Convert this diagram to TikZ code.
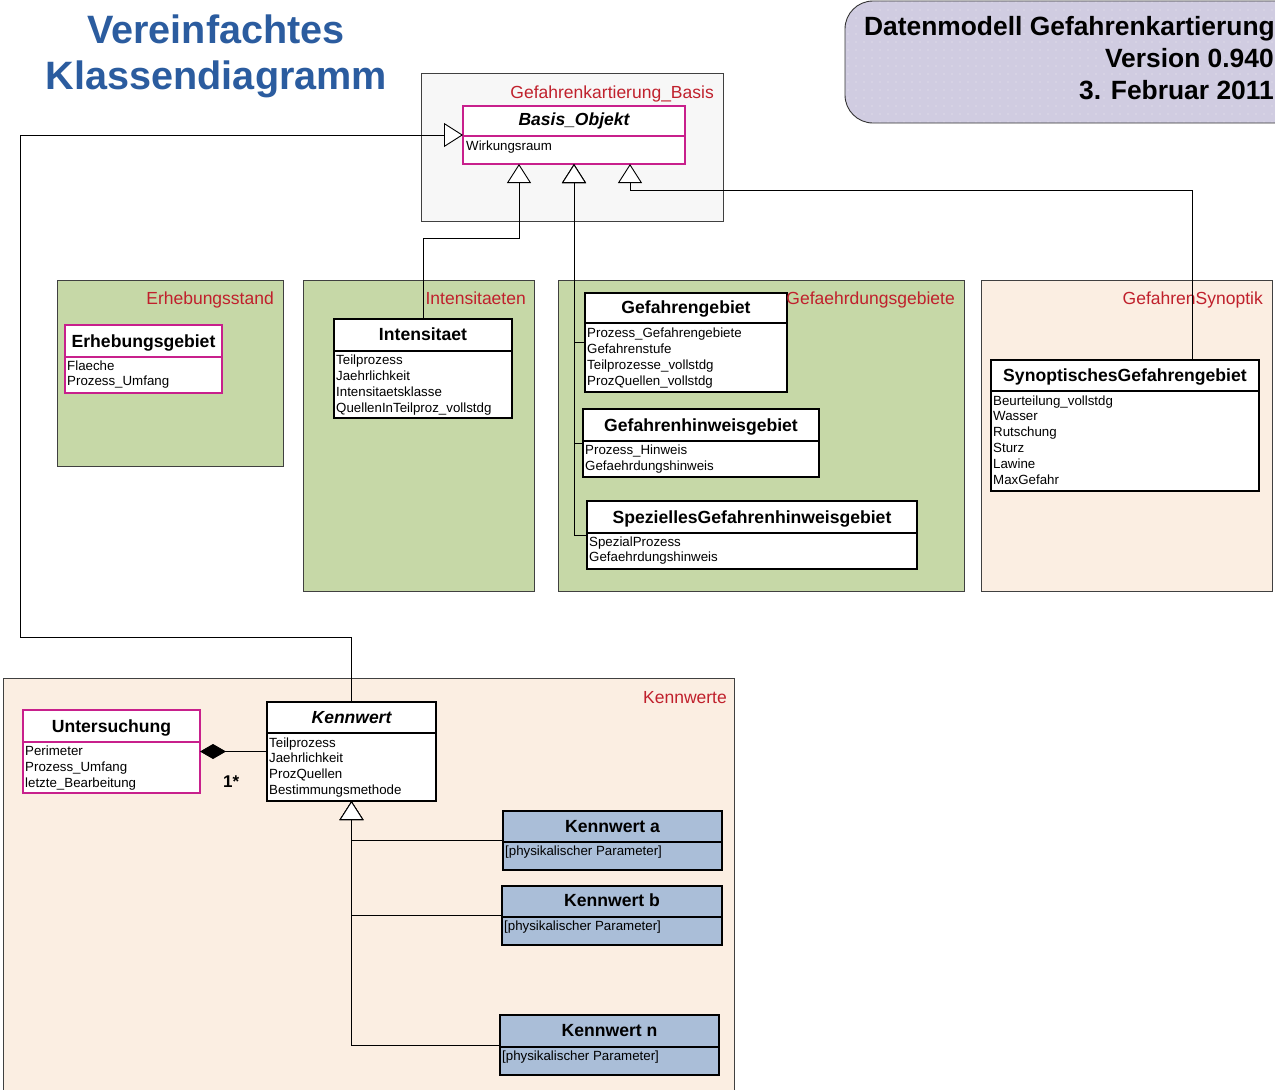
\documentclass[tikz,border=0pt]{standalone}
\usepackage{fontspec}
\setmainfont{Liberation Sans}
\usetikzlibrary{arrows.meta,calc,patterns.meta}

\definecolor{titleblue}{HTML}{2B5C9F}
\definecolor{pkgred}{HTML}{C0202C}
\definecolor{umlmagenta}{HTML}{C8208C}
\definecolor{greenpkg}{HTML}{C6D8A7}
\definecolor{peachpkg}{HTML}{FBEEE2}
\definecolor{graypkg}{HTML}{F7F7F7}
\definecolor{bluecls}{HTML}{AABED8}
\definecolor{lavender}{HTML}{D0CCE1}

\newcommand{\fsz}[1]{\fontsize{#1}{#1}\selectfont}

\begin{document}
\begin{tikzpicture}[x=1pt,y=-1pt,
  pkg/.style={draw=black!75, line width=0.8pt},
  pkglabel/.style={text=pkgred, font=\fsz{17.5}, anchor=base east, inner sep=0},
  cls/.style={draw=black, line width=2.4pt, fill=white, anchor=north west, inner sep=0, outer sep=0},
  mcls/.style={cls, draw=umlmagenta, line width=2.8pt},
  bcls/.style={cls, fill=bluecls},
  clsdiv/.style={draw=black, line width=2pt},
  mclsdiv/.style={draw=umlmagenta, line width=2.4pt},
  bclsdiv/.style={clsdiv},
  clstitle/.style={font=\fsz{17.6}\bfseries, anchor=base, inner sep=0},
  clsattr/.style={font=\fsz{13.3}, anchor=base west, inner sep=0},
  gen/.style={draw=black, line width=0.9pt, -{Triangle[length=19pt, width=24pt, fill=white]}},
  comp/.style={draw=black, line width=0.9pt, {Diamond[length=26pt, width=15pt, fill=black]}-},
]
\useasboundingbox (0,0) rectangle (1275,1090);
\clip (0,0) rectangle (1275,1090);
\fill[white] (0,0) rectangle (1275,1090);

% heading block at the top right
\path[draw=black!80, line width=0.9pt, rounded corners=28pt,
  preaction={fill=lavender},
  pattern={Dots[distance=8pt, radius=0.7pt]}, pattern color=white!55!lavender]
  (845,1) rectangle (1310,123);
\node[font=\fsz{26.4}\bfseries, anchor=base east, inner sep=0] (hdr1) at (1275,35) {Datenmodell Gefahrenkartierung};
\node[font=\fsz{26.4}\bfseries, anchor=base east, inner sep=0] (hdr2) at (1274,67) {Version 0.940};
\node[font=\fsz{26.4}\bfseries, anchor=base east, inner sep=0] (hdr3) at (1274,99) {3. Februar 2011};

% title
\node[font=\fsz{39.6}\bfseries, text=titleblue, anchor=base, inner sep=0] (title1) at (216,43) {Vereinfachtes};
\node[font=\fsz{39.6}\bfseries, text=titleblue, anchor=base, inner sep=0] (title2) at (216.5,89) {Klassendiagramm};

% packages
\path[pkg, fill=graypkg] (421,73) rectangle (723,221);
\path[pkg, fill=greenpkg] (57,280) rectangle (283,466);
\path[pkg, fill=greenpkg] (303,280) rectangle (534,591);
\path[pkg, fill=greenpkg] (558,280) rectangle (964,591);
\path[pkg, fill=peachpkg] (981,280) rectangle (1272,591);
\path[pkg, fill=peachpkg] (3,678) rectangle (734,1100);

\node[pkglabel] (lbl-basis) at (714,98) {Gefahrenkartierung\_Basis};
\node[pkglabel] (lbl-erh) at (274,304) {Erhebungsstand};
\node[pkglabel] (lbl-int) at (526,304) {Intensitaeten};
\node[pkglabel] (lbl-synop) at (1263,304) {GefahrenSynoptik};
\node[pkglabel] (lbl-kw) at (727,703) {Kennwerte};

% classes
\node[mcls, minimum width=222pt, minimum height=58pt] (basis) at (463,106) {};
\draw[mclsdiv] (463,136) -- (685,136);
\node[clstitle, font=\fsz{17.5}\bfseries\itshape] (basis-t) at (574,125) {Basis\_Objekt};
\node[clsattr] (basis-a1) at (466,150) {Wirkungsraum};

\node[mcls, minimum width=157pt, minimum height=68pt] (erh) at (65,325) {};
\draw[mclsdiv] (65,357) -- (222,357);
\node[clstitle] (erh-t) at (143.5,347) {Erhebungsgebiet};
\foreach [count=\i] \t in {Flaeche,Prozess\_Umfang}
  \node[clsattr] (erh-a\i) at (67,{370+15.5*(\i-1)}) {\t};

\node[cls, minimum width=178pt, minimum height=99pt] (intens) at (334,319) {};
\draw[clsdiv] (334,350.5) -- (512,350.5);
\node[clstitle] (intens-t) at (423,340) {Intensitaet};
\foreach [count=\i] \t in {Teilprozess,Jaehrlichkeit,Intensitaetsklasse,QuellenInTeilproz\_vollstdg}
  \node[clsattr] (intens-a\i) at (336,{364+16*(\i-1)}) {\t};

\node[cls, minimum width=202pt, minimum height=99pt] (gg) at (585,293) {};
\draw[clsdiv] (585,323) -- (787,323);
\node[clstitle] (gg-t) at (686,313) {Gefahrengebiet};
\foreach [count=\i] \t in {Prozess\_Gefahrengebiete,Gefahrenstufe,Teilprozesse\_vollstdg,ProzQuellen\_vollstdg}
  \node[clsattr] (gg-a\i) at (587,{337+16*(\i-1)}) {\t};

\node[cls, minimum width=236pt, minimum height=68pt] (ghg) at (583,409) {};
\draw[clsdiv] (583,441) -- (819,441);
\node[clstitle] (ghg-t) at (701,431) {Gefahrenhinweisgebiet};
\foreach [count=\i] \t in {Prozess\_Hinweis,Gefaehrdungshinweis}
  \node[clsattr] (ghg-a\i) at (585,{454+16*(\i-1)}) {\t};

\node[cls, minimum width=330pt, minimum height=68pt] (sghg) at (587,501) {};
\draw[clsdiv] (587,533) -- (917,533);
\node[clstitle] (sghg-t) at (752,523) {SpeziellesGefahrenhinweisgebiet};
\foreach [count=\i] \t in {SpezialProzess,Gefaehrdungshinweis}
  \node[clsattr] (sghg-a\i) at (589,{546+15.5*(\i-1)}) {\t};

\node[pkglabel] (lbl-gg) at (955,304) {Gefaehrdungsgebiete};

\node[cls, minimum width=268pt, minimum height=131pt] (synop) at (991,360) {};
\draw[clsdiv] (991,391) -- (1259,391);
\node[clstitle] (synop-t) at (1125,381) {SynoptischesGefahrengebiet};
\foreach [count=\i] \t in {Beurteilung\_vollstdg,Wasser,Rutschung,Sturz,Lawine,MaxGefahr}
  \node[clsattr] (synop-a\i) at (993,{405+15.8*(\i-1)}) {\t};

\node[mcls, minimum width=177pt, minimum height=83pt] (unters) at (23,710) {};
\draw[mclsdiv] (23,742) -- (200,742);
\node[clstitle] (unters-t) at (111.5,732) {Untersuchung};
\foreach [count=\i] \t in {Perimeter,Prozess\_Umfang,letzte\_Bearbeitung}
  \node[clsattr] (unters-a\i) at (25,{755+16*(\i-1)}) {\t};

\node[cls, minimum width=169pt, minimum height=99pt] (kw) at (267,702) {};
\draw[clsdiv] (267,733) -- (436,733);
\node[clstitle, font=\fsz{17.5}\bfseries\itshape] (kw-t) at (351.5,723) {Kennwert};
\foreach [count=\i] \t in {Teilprozess,Jaehrlichkeit,ProzQuellen,Bestimmungsmethode}
  \node[clsattr] (kw-a\i) at (269,{747+15.7*(\i-1)}) {\t};

\node[bcls, minimum width=219pt, minimum height=59pt] (ka) at (503,811) {};
\draw[bclsdiv] (503,842) -- (722,842);
\node[clstitle] (ka-t) at (612.5,832) {Kennwert a};
\node[clsattr] (ka-a1) at (505,855) {[physikalischer Parameter]};

\node[bcls, minimum width=220pt, minimum height=59pt] (kb) at (502,886) {};
\draw[bclsdiv] (502,917) -- (722,917);
\node[clstitle] (kb-t) at (612,906) {Kennwert b};
\node[clsattr] (kb-a1) at (504,930) {[physikalischer Parameter]};

\node[bcls, minimum width=219pt, minimum height=60pt] (kn) at (500,1015) {};
\draw[bclsdiv] (500,1047) -- (719,1047);
\node[clstitle] (kn-t) at (609.5,1036) {Kennwert n};
\node[clsattr] (kn-a1) at (502,1060) {[physikalischer Parameter]};

% generalisations
\draw[gen] (intens.north) -- ++(0,-81) -| ($(basis.south)+(-55,0)$);
\draw[gen] (gg.west) -| (basis.south);
\draw[gen] (ghg.west) -| (basis.south);
\draw[gen] (sghg.west) -| (basis.south);
\draw[gen] ($(synop.north east)+(-67,0)$) -- ++(0,-170) -| ($(basis.south)+(56,0)$);
\draw[gen] (kw.north) |- (20,637) |- (basis.west);
\draw[gen] (ka.west) -| (kw.south);
\draw[gen] (kb.west) -| (kw.south);
\draw[gen] (kn.west) -| (kw.south);

% composition
\draw[comp] (unters.east) -- (unters.east -| kw.west);
\node[font=\fsz{17}\bfseries, anchor=base west, inner sep=0] (mult) at (223,787) {1*};
\end{tikzpicture}
\end{document}
